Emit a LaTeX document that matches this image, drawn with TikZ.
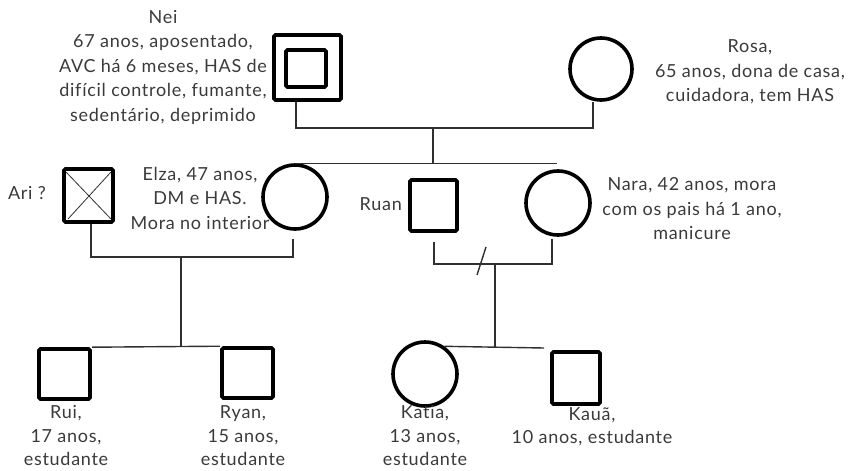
\documentclass[tikz,border=0pt]{standalone}
\usepackage{fontspec}
\setmainfont{Lato}[LetterSpace=4,Ligatures=NoCommon]
\definecolor{txt}{HTML}{3A3A3A}
\definecolor{ln}{HTML}{303030}
\begin{document}
\begin{tikzpicture}[x=1pt,y=-1pt,
 male/.style={draw=black, line width=3.6pt, rounded corners=1.5pt, inner sep=0pt},
 female/.style={draw=black, circle, line width=3.6pt, inner sep=0pt},
 lbl/.style={text=txt, font=\fontsize{18}{24.5}\selectfont, align=center, inner sep=0pt},
 link/.style={draw=ln, line width=1.4pt},
 cross/.style={draw=ln, line width=0.8pt}]
\useasboundingbox (0,0) rectangle (849,471);
% persons
\node[male, minimum width=67pt, minimum height=65pt] (nei) at (307.5,67.5) {};
\node[male, minimum width=40pt, minimum height=37pt] (neiin) at (306,68.5) {};
\node[female, minimum size=62pt] (rosa) at (601,69) {};
\node[male, minimum width=49pt, minimum height=53pt] (ari) at (88.5,195.5) {};
\node[female, minimum size=64pt] (elza) at (295,197) {};
\node[male, minimum width=47pt, minimum height=51pt] (ruan) at (433.5,205.5) {};
\node[female, minimum size=64pt] (nara) at (558,203) {};
\node[male, minimum width=51pt, minimum height=50pt] (rui) at (64.5,374) {};
\node[male, minimum width=51pt, minimum height=50pt] (ryan) at (247.5,373) {};
\node[female, minimum size=64pt] (katia) at (425,374) {};
\node[male, minimum width=48pt, minimum height=52pt] (kaua) at (576,378) {};
% cross on Ari
\draw[cross] ([shift={(4,5)}]ari.north west) -- ([shift={(-4,-5)}]ari.south east);
\draw[cross] ([shift={(6,-5)}]ari.south west) -- ([shift={(-4,5)}]ari.north east);
% coordinates
\coordinate (c1) at (296,128);
\coordinate (c2) at (593,128);
\coordinate (d1) at (433,128);
\coordinate (sib1) at (433,164);
\coordinate (sibend) at (557,164);
\coordinate (ae1) at (91,257);
\coordinate (ae2) at (293,257);
\coordinate (dd1) at (181,257);
\coordinate (rn1) at (434,264);
\coordinate (rn2) at (552,264);
\coordinate (sl1) at (486,247);
\coordinate (sl2) at (477,275);
\coordinate (rd) at (495,264);
\coordinate (rd2) at (495,348);
\coordinate (ksibend) at (544,348);
% connectors
\draw[link] (nei.south -| c1) -- (c1) -- (c2) -- (rosa.south -| c2);
\draw[link] (d1) -- (sib1);
\draw[link] (elza.north) -- (elza.north -| sibend);
\draw[link] (ari.south -| ae1) -- (ae1) -- (ae2) -- ([yshift=-8pt]elza.south -| ae2);
\draw[link] (dd1) -- (dd1 |- rui.north);
\draw[link] (rui.north east) -- (ryan.north west);
\draw[link] ([yshift=-9pt]ruan.south -| rn1) -- (rn1) -- (rn2) -- ([yshift=-2pt]nara.south -| rn2);
\draw[link] (sl1) -- (sl2);
\draw[link] (rd) -- (rd2);
\draw[link] (katia.55) -- (ksibend);
% labels
\node[lbl] (neit) at (163,67) {Nei\\67 anos, aposentado,\\AVC há 6 meses, HAS de\\difícil controle, fumante,\\sedentário, deprimido};
\node[lbl] (rosat) at (750,72) {Rosa,\\65 anos, dona de casa,\\cuidadora, tem HAS};
\node[lbl] (arit) at (27,193) {Ari ?};
\node[lbl] (elzat) at (200,198) {Elza, 47 anos,\\DM e HAS.\\Mora no interior};
\node[lbl, anchor=east] (ruant) at (402,204) {Ruan};
\node[lbl] (narat) at (692,209) {Nara, 42 anos, mora\\com os pais há 1 ano,\\manicure};
\node[lbl, font=\fontsize{18}{23.5}\selectfont] (ruit) at (66,436) {Rui,\\17 anos,\\estudante};
\node[lbl, font=\fontsize{18}{23.5}\selectfont] (ryant) at (243,436) {Ryan,\\15 anos,\\estudante};
\node[lbl, font=\fontsize{18}{23.5}\selectfont] (katiat) at (425,436) {Katia,\\13 anos,\\estudante};
\node[lbl, font=\fontsize{18}{23.5}\selectfont] (kauat) at (592,427) {Kauã,\\10 anos, estudante};
\end{tikzpicture}
\end{document}
